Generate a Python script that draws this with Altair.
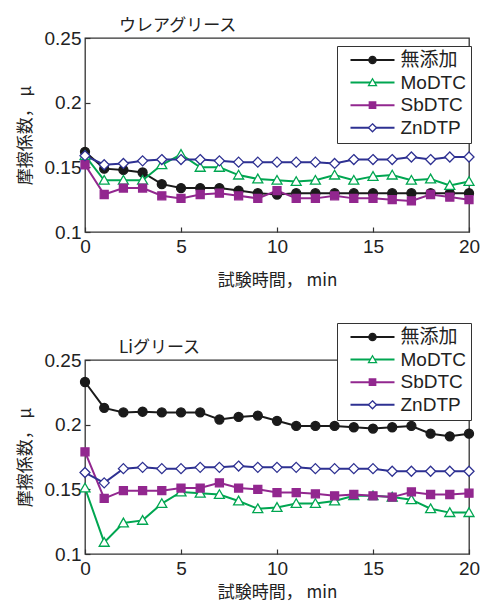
import altair as alt
import pandas as pd

# ---------------- data ----------------
series = ["無添加", "MoDTC", "SbDTC", "ZnDTP"]
line_colors = ["#1a1a1a", "#00a651", "#92278f", "#2e3192"]
fill_colors = ["#1a1a1a", "#ffffff", "#92278f", "#ffffff"]
time_min = list(range(21))

urea_title = "ウレアグリース"
urea_none = [0.162, 0.149, 0.148, 0.146, 0.137, 0.134, 0.134, 0.134, 0.132, 0.130, 0.129,
             0.130, 0.130, 0.130, 0.130, 0.130, 0.130, 0.130, 0.130, 0.130, 0.130]
urea_modtc = [0.159, 0.140, 0.140, 0.140, 0.152, 0.160, 0.150, 0.150, 0.144, 0.141, 0.140,
              0.139, 0.140, 0.144, 0.140, 0.143, 0.144, 0.140, 0.141, 0.136, 0.139]
urea_sbdtc = [0.152, 0.129, 0.134, 0.134, 0.128, 0.126, 0.129, 0.130, 0.128, 0.126, 0.132,
              0.126, 0.126, 0.128, 0.126, 0.126, 0.125, 0.124, 0.129, 0.127, 0.125]
urea_zndtp = [0.159, 0.152, 0.153, 0.155, 0.156, 0.156, 0.156, 0.155, 0.154, 0.154, 0.154,
              0.154, 0.154, 0.153, 0.156, 0.156, 0.156, 0.158, 0.156, 0.158, 0.158]

li_title = "Liグリース"
li_none = [0.233, 0.213, 0.2095, 0.210, 0.2095, 0.2095, 0.2095, 0.204, 0.206, 0.207, 0.203,
           0.199, 0.199, 0.199, 0.198, 0.197, 0.198, 0.199, 0.193, 0.191, 0.193]
li_modtc = [0.151, 0.109, 0.124, 0.126, 0.139, 0.148, 0.147, 0.146, 0.141, 0.135, 0.136,
            0.139, 0.139, 0.141, 0.145, 0.145, 0.144, 0.142, 0.135, 0.132, 0.132]
li_sbdtc = [0.179, 0.143, 0.149, 0.149, 0.149, 0.151, 0.151, 0.155, 0.151, 0.150, 0.1475,
            0.1475, 0.1465, 0.145, 0.146, 0.145, 0.144, 0.148, 0.146, 0.146, 0.147]
li_zndtp = [0.163, 0.155, 0.166, 0.167, 0.166, 0.166, 0.167, 0.167, 0.168, 0.167, 0.167,
            0.167, 0.166, 0.166, 0.166, 0.166, 0.164, 0.164, 0.164, 0.164, 0.164]

y_ticks = [0.1, 0.15, 0.2, 0.25]
x_ticks = [0, 5, 10, 15, 20]
x_title = "試験時間， min"
y_title = "摩擦係数， μ"

# ---------------- styling helpers ----------------
LATIN = "Liberation Sans, Noto Sans CJK JP, sans-serif"
CJK = "Noto Sans CJK JP, Liberation Sans, sans-serif"
TXT = "#222222"
FRAME = "#333333"


def marker_path(kind, unit):
    f = lambda v: f"{v / unit:.4f}"
    if kind == "circle":
        r = 4.5
        return f"M{f(r)},0A{f(r)},{f(r)},0,1,1,{f(-r)},0A{f(r)},{f(r)},0,1,1,{f(r)},0Z"
    if kind == "triangle":
        w, top, bot = 5.0, -4.8, 3.9
        return f"M0,{f(top)}L{f(w)},{f(bot)}L{f(-w)},{f(bot)}Z"
    if kind == "square":
        s = 4.0
        return f"M{f(-s)},{f(-s)}L{f(s)},{f(-s)}L{f(s)},{f(s)}L{f(-s)},{f(s)}Z"
    d = 5.0
    return f"M0,{f(-d)}L{f(d)},0L0,{f(d)}L{f(-d)},0Z"


kinds = ["circle", "triangle", "square", "diamond"]
POINT_SIZE = 100   # 5 px per path unit
point_shapes = [marker_path(k, 5.0) for k in kinds]
LEG_LINE = "M-5.5,0L5.5,0"   # 44 px line at symbol size 64


def legends(ly):
    common = dict(orient="none", legendX=252, legendY=ly, title=None,
                  symbolSize=64, symbolOffset=21.5, labelOffset=18.5,
                  labelFontSize=19, labelFont=LATIN, labelColor=TXT,
                  padding=4.5, rowPadding=2.6)
    line_leg = alt.Legend(symbolType=LEG_LINE, symbolStrokeWidth=2, labelOpacity=0,
                          strokeColor=FRAME, fillColor="#ffffff", **common)
    mark_leg = alt.Legend(symbolStrokeWidth=1.3, **common)
    return line_leg, mark_leg


def long_df(cols):
    rows = []
    for name, vals in zip(series, cols):
        for t, v in zip(time_min, vals):
            rows.append({"t": t, "mu": v, "series": name})
    return pd.DataFrame(rows)


def panel(cols, title, legend_y, title_y, x_title_pad):
    df = long_df(cols)
    x = alt.X("t:Q", scale=alt.Scale(domain=[0, 20], nice=False),
              axis=alt.Axis(values=x_ticks, title=x_title, offset=-5, tickSize=5,
                            domain=False, grid=False, labelPadding=5, labelFlush=False,
                            labelFontSize=19, labelFont=LATIN, labelColor=TXT,
                            tickColor=FRAME, tickWidth=1.2,
                            titleFont=CJK, titleFontSize=17, titleFontWeight="normal",
                            titleColor=TXT, titlePadding=x_title_pad))
    y = alt.Y("mu:Q", scale=alt.Scale(domain=[0.1, 0.25], nice=False),
              axis=alt.Axis(values=y_ticks, format="~g", title=y_title, offset=-5,
                            tickSize=5, domain=False, grid=False, labelPadding=4,
                            labelFlush=False,
                            labelFontSize=19, labelFont=LATIN, labelColor=TXT,
                            tickColor=FRAME, tickWidth=1.2,
                            titleFont=CJK, titleFontSize=17, titleFontWeight="normal",
                            titleColor=TXT, titlePadding=10))
    line_leg, mark_leg = legends(legend_y)
    lines = alt.Chart(df).mark_line(strokeWidth=2).encode(
        x=x, y=y,
        color=alt.Color("series:N", sort=series, scale=alt.Scale(range=line_colors),
                        legend=line_leg),
        order=alt.Order("t:Q"),
    )
    pts = alt.Chart(df).mark_point(opacity=1, strokeWidth=1.3, size=POINT_SIZE).encode(
        x=x, y=y,
        fill=alt.Fill("series:N", scale=alt.Scale(domain=series, range=fill_colors),
                      legend=mark_leg),
        stroke=alt.Stroke("series:N", scale=alt.Scale(domain=series, range=line_colors),
                          legend=mark_leg),
        shape=alt.Shape("series:N", scale=alt.Scale(domain=series, range=point_shapes),
                        legend=mark_leg),
    )
    ttl = alt.Chart(pd.DataFrame({"label": [title]})).mark_text(
        align="left", baseline="middle", font=CJK, fontSize=17, color=TXT
    ).encode(x=alt.value(34), y=alt.value(title_y), text="label:N")
    return alt.layer(lines, pts, ttl).properties(
        width=384, height=194,
        view=alt.ViewBackground(stroke=FRAME, strokeWidth=1.3, fill="#ffffff"),
    )


top = panel([urea_none, urea_modtc, urea_sbdtc, urea_zndtp], urea_title, 8, -12, 16)
bottom = panel([li_none, li_modtc, li_sbdtc, li_zndtp], li_title, -37, -12, 6)

chart = alt.vconcat(
    top, bottom, spacing=32,
    padding={"left": 7, "top": 8, "right": 0, "bottom": 0},
).resolve_scale(
    color="independent", fill="independent", stroke="independent", shape="independent"
).resolve_legend(
    color="independent", fill="independent", stroke="independent", shape="independent"
).configure_view(stroke=FRAME, strokeWidth=1.3)

chart.save("out.html", embed_options={"renderer": "svg", "actions": False})
